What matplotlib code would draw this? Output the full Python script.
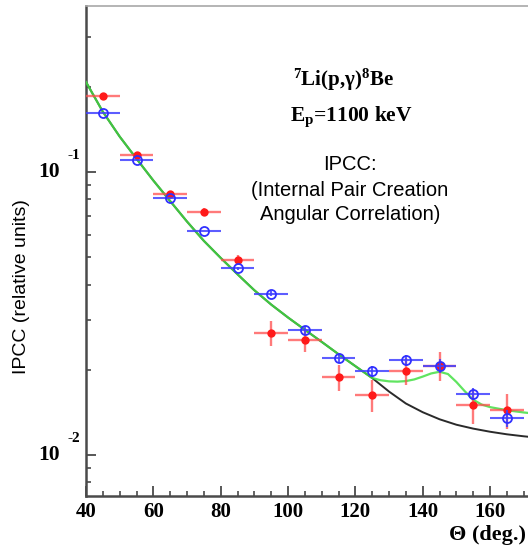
import matplotlib
matplotlib.use("Agg")
import matplotlib.pyplot as plt
import matplotlib.ticker as mticker
from matplotlib.transforms import offset_copy

plt.rcParams['mathtext.fontset'] = 'custom'
plt.rcParams['mathtext.rm'] = 'Liberation Serif:bold'
plt.rcParams['mathtext.it'] = 'Liberation Serif:bold'
plt.rcParams['mathtext.bf'] = 'Liberation Serif:bold'

# ---- data ----
angles = [45, 55, 65, 75, 85, 95, 105, 115, 125, 135, 145, 155, 165]
angle_err = [5] * 13
red_vals = [0.185, 0.115, 0.0835, 0.0724, 0.0489, 0.0270, 0.0255, 0.0188, 0.0163, 0.0198, 0.0207, 0.0150, 0.0144]
red_err = [0.004, 0.003, 0.0025, 0.002, 0.002, 0.0027, 0.0023, 0.0020, 0.0021, 0.0022, 0.0025, 0.0021, 0.0020]
blue_vals = [0.161, 0.110, 0.0811, 0.0620, 0.0457, 0.0372, 0.0277, 0.0220, 0.0198, 0.0216, 0.0207, 0.0164, 0.0135]
blue_err = [0.0, 0.0, 0.0, 0.0, 0.0005, 0.0008, 0.0009, 0.0009, 0.0009, 0.0009, 0.0012, 0.0008, 0.0009]

# black: calculation without the extra component
black_x = [40, 45, 50, 55, 60, 65, 70, 75, 80, 85, 90, 95, 100, 105, 110, 115, 120, 125,
           130, 135, 140, 145, 150, 155, 160, 165, 170, 175, 180]
black_y = [0.2080, 0.1633, 0.1334, 0.1114, 0.0933, 0.0789, 0.0668, 0.0571, 0.0497, 0.0435,
           0.0382, 0.0340, 0.0306, 0.0277, 0.0251, 0.0227, 0.0206, 0.0187,
           0.01675, 0.0152, 0.01416, 0.01337, 0.01279, 0.01239, 0.01208, 0.01183, 0.01164,
           0.01148, 0.01135]
# green: calculation including the extra component
green_x = [40, 45, 50, 55, 60, 65, 70, 75, 80, 85, 90, 95, 100, 105, 110, 115, 120, 125,
           127.5, 130, 132.5, 135, 137.5, 140, 142.5, 145, 147.5, 150, 152.5, 155, 157.5,
           160, 165, 170, 175, 180]
green_y = [0.2080, 0.1633, 0.1334, 0.1114, 0.0933, 0.0789, 0.0668, 0.0571, 0.0497, 0.0435,
           0.0382, 0.0340, 0.0306, 0.0277, 0.0251, 0.0227, 0.0206, 0.0187,
           0.01837, 0.01820, 0.01816, 0.01824, 0.01849, 0.01892, 0.01941, 0.01968, 0.01932,
           0.01811, 0.01679, 0.01567, 0.01507, 0.01476, 0.01439, 0.01413, 0.01393, 0.01380]

xtick_vals = [40, 60, 80, 100, 120, 140, 160]
xtick_labels = ['40', '60', '80', '100', '120', '140', '160']
ytick_vals = [0.01, 0.1]
ytick_bases = ['10', '10']
ytick_exps = ['-2', '-1']

W, H = 528, 546
fig = plt.figure(figsize=(W / 100, H / 100), dpi=100)
ax = fig.add_axes([86 / W, (H - 495.5) / H, 471.4 / W, 489.5 / H])
ax.set_yscale('log')
ax.set_xlim(40, 180)
ax.set_ylim(0.00719, 0.386)

spine_col = '#4a4a4a'
for s in ['left', 'bottom']:
    ax.spines[s].set_color(spine_col)
    ax.spines[s].set_linewidth(1.8)
ax.spines['top'].set_color('#a8a8a8')
ax.spines['top'].set_linewidth(1.2)
ax.spines['right'].set_visible(False)

# curves
ax.plot(black_x, black_y, color='#2a2a2a', lw=1.4, zorder=2)
ax.plot(green_x, green_y, color='#44e044', lw=1.6, alpha=0.85, zorder=3)

# data
ax.errorbar(angles, red_vals, xerr=angle_err, yerr=red_err, fmt='o', color='#ff1a1a',
            ecolor=(1.0, 0.3, 0.3, 0.75), elinewidth=1.7, capsize=0, markersize=6.0,
            markeredgewidth=0, zorder=4)
ax.errorbar(angles, blue_vals, xerr=angle_err, yerr=blue_err, fmt='o', mfc='none', mec='#3030ff',
            ecolor=(0.25, 0.25, 1.0, 0.85), elinewidth=1.5, capsize=0, markersize=6.5,
            markeredgewidth=1.3, zorder=5)

# ticks
ax.xaxis.set_major_locator(mticker.FixedLocator(xtick_vals))
ax.xaxis.set_minor_locator(mticker.MultipleLocator(5))
ax.set_xticklabels(xtick_labels, fontfamily='Liberation Serif', fontweight='bold', fontsize=15)
ax.tick_params(axis='x', which='major', direction='in', length=7, width=1.3, color=spine_col, pad=5)
ax.tick_params(axis='x', which='minor', direction='in', length=3.5, width=1.2, color=spine_col)

ax.yaxis.set_major_locator(mticker.FixedLocator(ytick_vals))
ax.yaxis.set_minor_locator(mticker.LogLocator(base=10, subs=[2, 3, 4, 5, 6, 7, 8, 9]))
ax.yaxis.set_major_formatter(mticker.NullFormatter())
ax.yaxis.set_minor_formatter(mticker.NullFormatter())
ax.tick_params(axis='y', which='major', direction='in', length=7.5, width=1.3, color=spine_col)
ax.tick_params(axis='y', which='minor', direction='in', length=3.5, width=1.2, color=spine_col)

ytr = ax.get_yaxis_transform()
for v, b, e in zip(ytick_vals, ytick_bases, ytick_exps):
    ax.text(0, v, b, transform=offset_copy(ytr, fig=fig, x=-26, y=0, units='dots'),
            ha='right', va='center', fontfamily='Liberation Serif', fontweight='bold', fontsize=15.5)
    ax.text(0, v, e, transform=offset_copy(ytr, fig=fig, x=-18, y=16, units='dots'),
            ha='left', va='center', fontfamily='Liberation Serif', fontweight='bold', fontsize=11)

# labels
fig.text(22 / W, (H - 287) / H, 'IPCC (relative units)', rotation=90, ha='center', va='center',
         fontfamily='Liberation Sans', fontsize=14)
fig.text(526 / W, (H - 535) / H, 'Θ (deg.)', ha='right', va='center',
         fontfamily='Liberation Serif', fontweight='bold', fontsize=16)

# annotations
fig.text(343 / W, (H - 80) / H, r'$^{7}$Li(p,γ)$^{8}$Be', ha='center', va='center',
         fontfamily='Liberation Serif', fontweight='bold', fontsize=15)
fig.text(351 / W, (H - 117) / H, r'E$_{\rm p}$=1100 keV', ha='center', va='center',
         fontfamily='Liberation Serif', fontweight='bold', fontsize=15.5)
fig.text(350 / W, (H - 165) / H, 'IPCC:', ha='center', va='center',
         fontfamily='Liberation Sans', fontsize=14.5)
fig.text(350 / W, (H - 190) / H, '(Internal Pair Creation', ha='center', va='center',
         fontfamily='Liberation Sans', fontsize=14.5)
fig.text(350 / W, (H - 214) / H, 'Angular Correlation)', ha='center', va='center',
         fontfamily='Liberation Sans', fontsize=14.5)

fig.savefig('out.png', dpi=100)
